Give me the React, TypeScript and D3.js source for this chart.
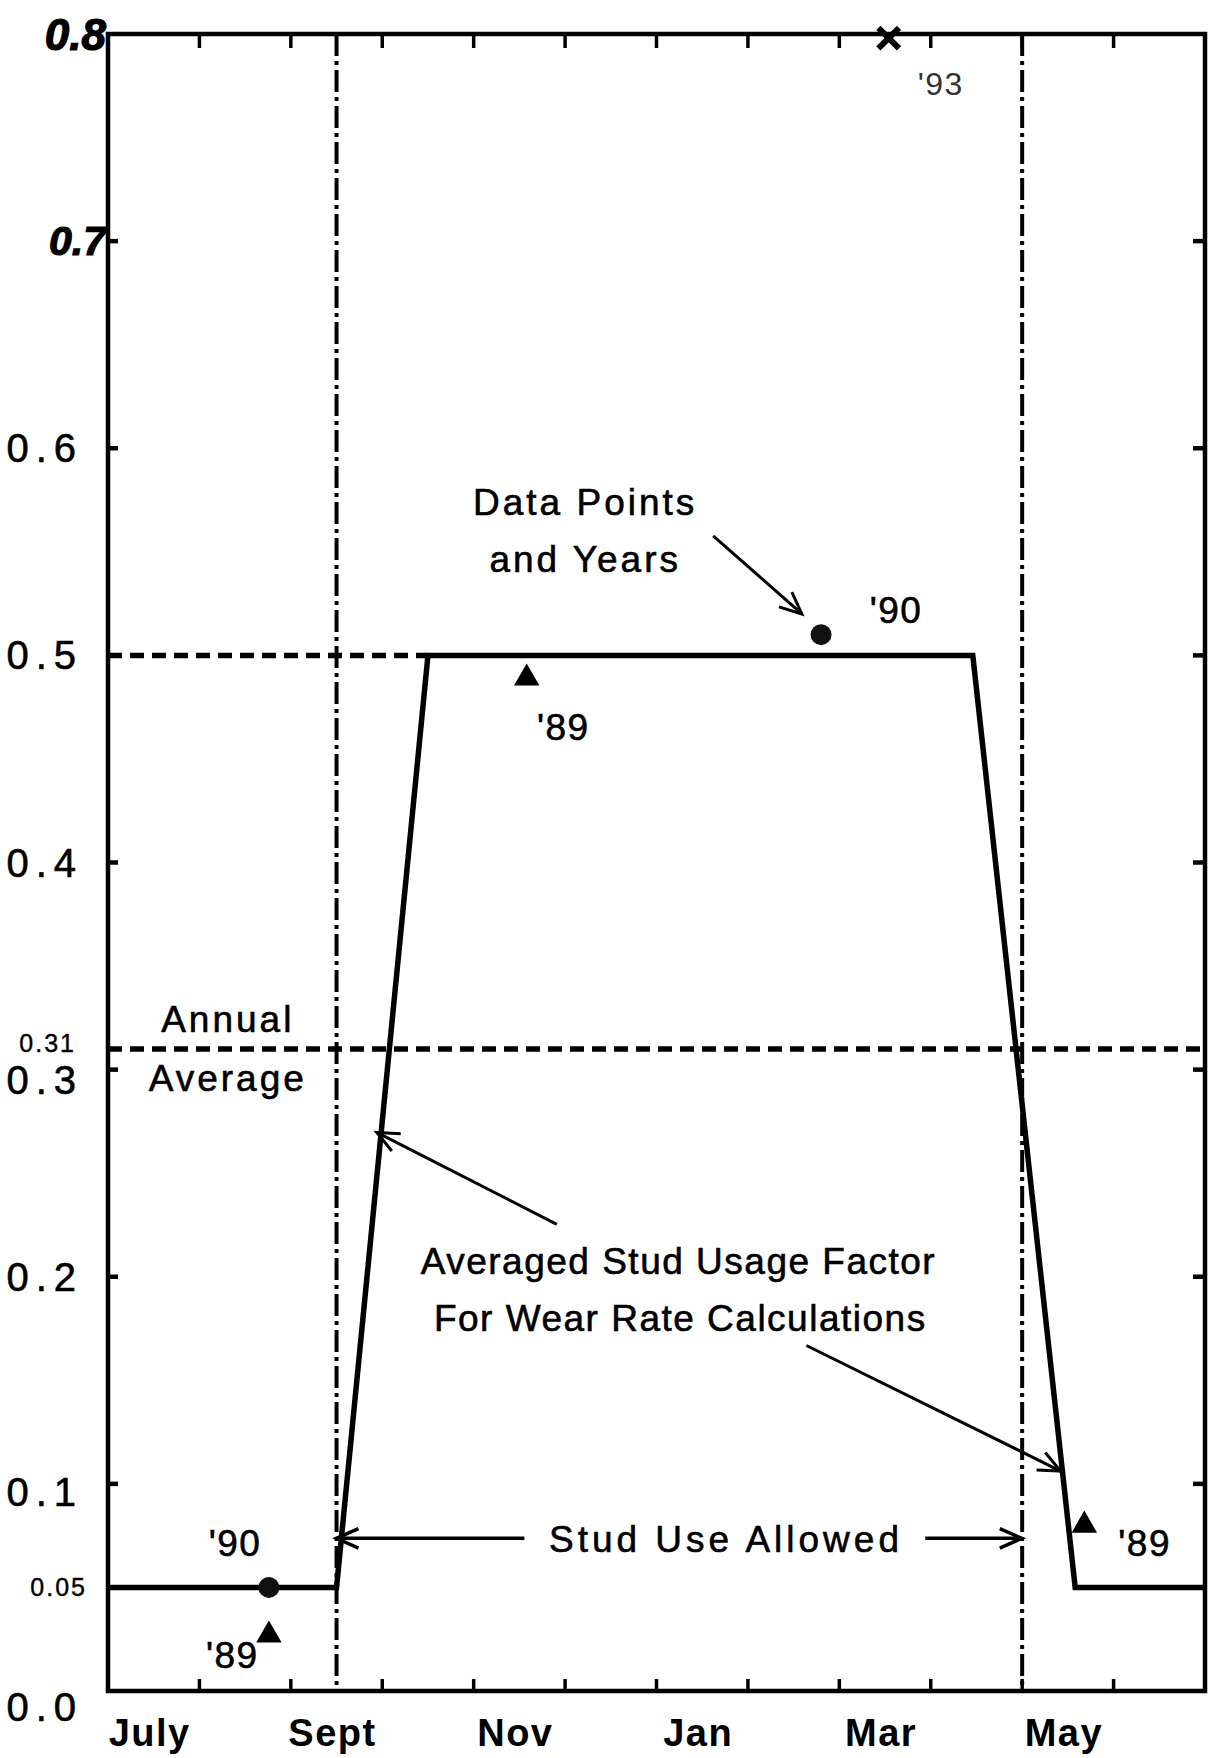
import React from "react";
import * as d3 from "d3";

// ---- data ----
const monthNames = ["July", "Aug", "Sept", "Oct", "Nov", "Dec", "Jan", "Feb", "Mar", "Apr", "May", "June"];
const labelledMonths = ["July", "Sept", "Nov", "Jan", "Mar", "May"];
const yTicks = [0.0, 0.1, 0.2, 0.3, 0.4, 0.5, 0.6, 0.7, 0.8];
const yTickText = ["0.0", "0.1", "0.2", "0.3", "0.4", "0.5", "0.6", "0.7", "0.8"];
const extraTickValues = [0.31, 0.05];
const extraTickText = ["0.31", "0.05"];

// averaged stud usage factor (month index from July 1)
const usageMonths = [0, 2.5, 3.5, 9.46, 10.58, 12];
const usageValues = [0.05, 0.05, 0.5, 0.5, 0.05, 0.05];

const annualAverage = 0.31;
const plateauLevel = 0.5;
const plateauStartMonth = 3.5;
const studSeasonStart = 2.5; // Sept 15
const studSeasonEnd = 10; // May 1

// data points
const pts89Months = [1.76, 4.58, 10.68];
const pts89Values = [0.027, 0.489, 0.08];
const pts90Months = [1.76, 7.8];
const pts90Values = [0.05, 0.51];
const pts93Months = [8.54];
const pts93Values = [0.798];

// year labels
const yearText = ["'90", "'89", "'89", "'90", "'89", "'93"];
const yearMonths = [1.39, 1.36, 4.98, 8.62, 11.34, 9.11];
const yearValues = [0.0651, 0.0109, 0.459, 0.5155, 0.0651, 0.7705];

// annotation texts
const noteText = [
  "Data Points",
  "and Years",
  "Annual",
  "Average",
  "Averaged Stud Usage Factor",
  "For Wear Rate Calculations",
  "Stud Use Allowed",
];
const noteMonths = [5.22, 5.22, 1.31, 1.31, 6.24, 6.26, 6.76];
const noteValues = [0.568, 0.5404, 0.3184, 0.2897, 0.2015, 0.1738, 0.0672];
const noteSpacing = [3, 3, 3, 3, 1.5, 1.5, 4];

// arrows: from -> to
const arrowFromM = [6.62, 4.91, 7.64, 4.555, 8.94];
const arrowFromV = [0.5577, 0.2253, 0.1668, 0.0737, 0.0737];
const arrowToM = [7.59, 2.94, 10.42, 2.5, 9.995];
const arrowToV = [0.52, 0.2697, 0.1062, 0.0737, 0.0737];

const FONT = "'Liberation Sans', Arial, Helvetica, sans-serif";

export default function App() {
  const W = 1211;
  const H = 1758;
  const x = d3.scaleLinear().domain([0, 12]).range([108, 1205]);
  const y = d3.scaleLinear().domain([0, 0.8]).range([1691, 34]);

  const line = d3
    .line<number>()
    .x((_, i) => x(usageMonths[i]))
    .y((d) => y(d));

  const tri = d3.symbol().type(d3.symbolTriangle).size(280)() as string;
  const cross = d3.symbol().type(d3.symbolTimes).size(280)() as string;

  const monthTicks = d3.range(1, 12);
  const innerYTicks = yTicks.filter((v) => v > 0 && v < 0.8);

  const labelDy = (v: number) => (v === 0 ? 16 : v === 0.1 ? 8 : v === 0.3 ? 10 : 0);

  const arrowHead = (x1: number, y1: number, x2: number, y2: number) => {
    const a = Math.atan2(y2 - y1, x2 - x1);
    const L = 24;
    const s = 0.42;
    const p1 = [x2 - L * Math.cos(a - s), y2 - L * Math.sin(a - s)];
    const p2 = [x2 - L * Math.cos(a + s), y2 - L * Math.sin(a + s)];
    return `M${p1[0]},${p1[1]}L${x2},${y2}L${p2[0]},${p2[1]}`;
  };

  return (
    <div style={{ position: "absolute", left: 0, top: 0 }}>
      <svg width={W} height={H} style={{ display: "block", background: "#fff" }} fontFamily={FONT}>
        <rect x={0} y={0} width={W} height={H} fill="#fff" />

        {/* dashed reference lines */}
        <line
          x1={x(0)}
          x2={x(plateauStartMonth)}
          y1={y(plateauLevel)}
          y2={y(plateauLevel)}
          stroke="#000"
          strokeWidth={5.5}
          strokeDasharray="14 8"
        />
        <line
          x1={x(0)}
          x2={x(12)}
          y1={y(annualAverage)}
          y2={y(annualAverage)}
          stroke="#000"
          strokeWidth={5.5}
          strokeDasharray="14 8"
        />

        {/* stud season vertical dash-dot lines */}
        {[studSeasonStart, studSeasonEnd].map((m, i) => (
          <line
            key={"v" + i}
            x1={x(m)}
            x2={x(m)}
            y1={y(0.8)}
            y2={y(0)}
            stroke="#000"
            strokeWidth={4}
            strokeDasharray="22 5 4 5"
          />
        ))}

        {/* frame */}
        <rect
          x={x(0)}
          y={y(0.8)}
          width={x(12) - x(0)}
          height={y(0) - y(0.8)}
          fill="none"
          stroke="#000"
          strokeWidth={4.5}
        />

        {/* month ticks top & bottom */}
        {monthTicks.map((m) => (
          <g key={"mt" + m}>
            <line x1={x(m)} x2={x(m)} y1={y(0.8)} y2={y(0.8) + 14} stroke="#000" strokeWidth={3.5} />
            <line x1={x(m)} x2={x(m)} y1={y(0)} y2={y(0) - 12} stroke="#000" strokeWidth={3.5} />
          </g>
        ))}

        {/* y ticks left & right */}
        {innerYTicks.map((v) => (
          <g key={"yt" + v}>
            <line x1={x(0)} x2={x(0) + 10} y1={y(v)} y2={y(v)} stroke="#000" strokeWidth={4.5} />
            <line x1={x(12)} x2={x(12) - 12} y1={y(v)} y2={y(v)} stroke="#000" strokeWidth={4.5} />
          </g>
        ))}

        {/* y tick labels */}
        {yTicks.map((v, i) => {
          const hand = v >= 0.7;
          return (
            <text
              key={"yl" + i}
              x={hand ? x(0) - 2 : 83}
              y={y(v) + labelDy(v)}
              textAnchor="end"
              dominantBaseline="central"
              fontSize={hand ? (v === 0.8 ? 44 : 41) : 40}
              fontStyle={hand ? "italic" : "normal"}
              fontWeight={hand ? "bold" : "normal"}
              letterSpacing={hand ? 0 : 7}
              stroke="#000"
              strokeWidth={hand ? 1.2 : 0.6}
              fill="#000"
            >
              {yTickText[i]}
            </text>
          );
        })}
        {extraTickValues.map((v, i) => (
          <text
            key={"ye" + i}
            x={i === 0 ? 76 : 87}
            y={y(v) - (i === 0 ? 6 : 0)}
            textAnchor="end"
            dominantBaseline="central"
            fontSize={25}
            letterSpacing={2}
            stroke="#000"
            strokeWidth={0.4}
            fill="#000"
          >
            {extraTickText[i]}
          </text>
        ))}

        {/* month labels */}
        {monthNames.map((name, i) =>
          labelledMonths.includes(name) ? (
            <text
              key={"ml" + i}
              x={x(i + 0.5) - 4}
              y={1746}
              textAnchor="middle"
              fontSize={38}
              fontWeight="bold"
              letterSpacing={1.5}
              fill="#000"
            >
              {name}
            </text>
          ) : null
        )}

        {/* usage factor line */}
        <path d={line(usageValues) || ""} fill="none" stroke="#000" strokeWidth={5.5} strokeLinejoin="miter" />

        {/* arrows */}
        {arrowFromM.map((m, i) => {
          const x1 = x(m);
          const y1 = y(arrowFromV[i]);
          const x2 = x(arrowToM[i]);
          const y2 = y(arrowToV[i]);
          return (
            <g key={"ar" + i} stroke="#000" fill="none" strokeWidth={i >= 3 ? 3.5 : 3}>
              <line x1={x1} y1={y1} x2={x2} y2={y2} />
              <path d={arrowHead(x1, y1, x2, y2)} />
            </g>
          );
        })}

        {/* data points */}
        {pts89Months.map((m, i) => (
          <path key={"p89" + i} d={tri} transform={`translate(${x(m)},${y(pts89Values[i])})`} fill="#000" />
        ))}
        {pts90Months.map((m, i) => (
          <circle key={"p90" + i} cx={x(m)} cy={y(pts90Values[i])} r={10.5} fill="#111" />
        ))}
        {pts93Months.map((m, i) => (
          <path
            key={"p93" + i}
            d={cross}
            transform={`translate(${x(m)},${y(pts93Values[i])})`}
            fill="none"
            stroke="#000"
            strokeWidth={6}
          />
        ))}

        {/* year labels */}
        {yearText.map((t, i) => (
          <text
            key={"yr" + i}
            x={x(yearMonths[i])}
            y={y(yearValues[i])}
            textAnchor="middle"
            fontSize={t === "'93" ? 32 : 37}
            fill={t === "'93" ? "#333" : "#000"}
            stroke={t === "'93" ? "none" : "#000"}
            strokeWidth={0.6}
            letterSpacing={1.5}
          >
            {t}
          </text>
        ))}

        {/* annotation text */}
        {noteText.map((t, i) => (
          <text
            key={"nt" + i}
            x={x(noteMonths[i])}
            y={y(noteValues[i])}
            textAnchor="middle"
            fontSize={37}
            letterSpacing={noteSpacing[i]}
            stroke="#000"
            strokeWidth={0.6}
            fill="#000"
          >
            {t}
          </text>
        ))}
      </svg>
    </div>
  );
}
